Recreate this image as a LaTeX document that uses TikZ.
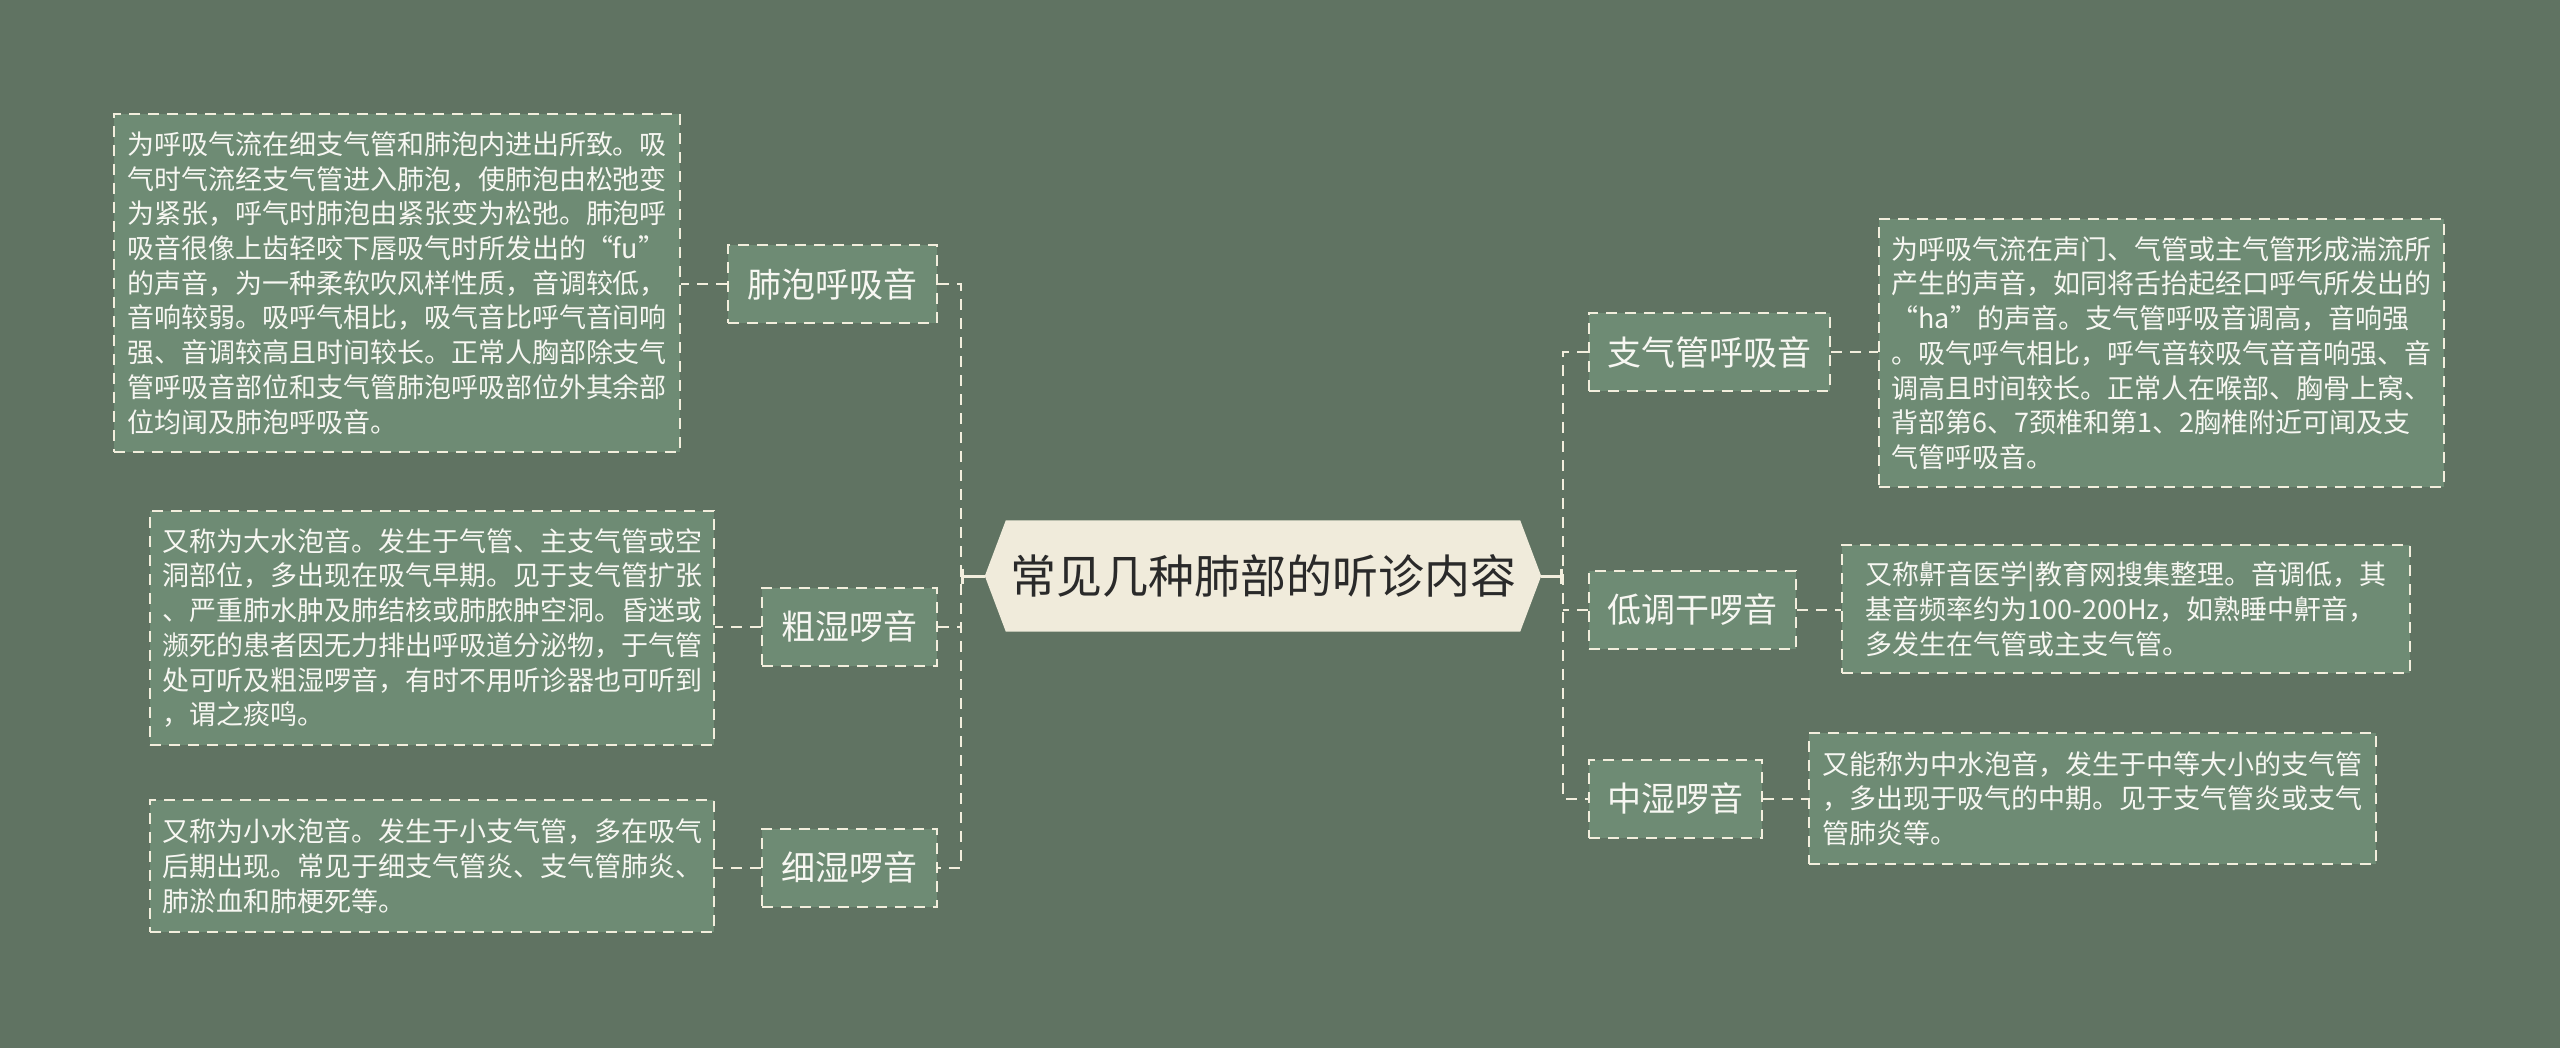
\documentclass[tikz,border=0pt]{standalone}
\usepackage{fontspec}
\setmainfont{Noto Sans CJK SC}
\usetikzlibrary{backgrounds,arrows.meta}
\definecolor{bg}{HTML}{607362}
\definecolor{boxfill}{HTML}{6E8B74}
\definecolor{lineC}{HTML}{F2EEDD}
\definecolor{centerfill}{HTML}{F0EBDB}
\definecolor{centertext}{HTML}{2A2A2A}
\definecolor{txt}{HTML}{F7F7F2}
\begin{document}
\begin{tikzpicture}[x=1pt,y=-1pt,
  dline/.style={draw=lineC, line width=2.9pt, dash pattern=on 11pt off 8pt},
  desc/.style={dline, fill=boxfill, text=txt, align=left, inner sep=0pt, font=\fontsize{27pt}{34.7pt}\selectfont},
  lab/.style={dline, fill=boxfill, text=txt, inner sep=0pt, minimum height=78pt, font=\fontsize{34pt}{40pt}\selectfont},
  conn/.style={dline},
  stub/.style={draw=lineC, line width=3pt, -{Bar[width=15pt,line width=3pt]}}]
\useasboundingbox (0,0) rectangle (2560,1048);
% left side
\node[desc, minimum width=566pt, minimum height=338pt] (d1) at (397,283) {为呼吸气流在细支气管和肺泡内进出所致。吸\\气时气流经支气管进入肺泡，使肺泡由松弛变\\为紧张，呼气时肺泡由紧张变为松弛。肺泡呼\\吸音很像上齿轻咬下唇吸气时所发出的“fu”\\的声音，为一种柔软吹风样性质，音调较低，\\音响较弱。吸呼气相比，吸气音比呼气音间响\\强、音调较高且时间较长。正常人胸部除支气\\管呼吸音部位和支气管肺泡呼吸部位外其余部\\位均闻及肺泡呼吸音。};
\node[lab, minimum width=209pt] (l1) at (832.5,284) {肺泡呼吸音};
\node[desc, minimum width=564pt, minimum height=234pt] (d2) at (432,628) {又称为大水泡音。发生于气管、主支气管或空\\洞部位，多出现在吸气早期。见于支气管扩张\\、严重肺水肿及肺结核或肺脓肿空洞。昏迷或\\濒死的患者因无力排出呼吸道分泌物，于气管\\处可听及粗湿啰音，有时不用听诊器也可听到\\，谓之痰鸣。};
\node[lab, minimum width=175pt] (l2) at (849.5,627) {粗湿啰音};
\node[desc, minimum width=564pt, minimum height=132pt] (d3) at (432,866) {又称为小水泡音。发生于小支气管，多在吸气\\后期出现。常见于细支气管炎、支气管肺炎、\\肺淤血和肺梗死等。};
\node[lab, minimum width=175pt] (l3) at (849.5,868) {细湿啰音};
% right side
\node[lab, minimum width=241pt] (r1) at (1709.5,352) {支气管呼吸音};
\node[desc, minimum width=565pt, minimum height=268pt] (e1) at (2161.5,353) {为呼吸气流在声门、气管或主气管形成湍流所\\产生的声音，如同将舌抬起经口呼气所发出的\\“ha”的声音。支气管呼吸音调高，音响强\\。吸气呼气相比，呼气音较吸气音音响强、音\\调高且时间较长。正常人在喉部、胸骨上窝、\\背部第6、7颈椎和第1、2胸椎附近可闻及支\\气管呼吸音。};
\node[lab, minimum width=207pt] (r2) at (1692.5,610) {低调干啰音};
\node[desc, minimum width=568pt, minimum height=128pt] (e2) at (2126,609) {又称鼾音医学|教育网搜集整理。音调低，其\\基音频率约为100-200Hz，如熟睡中鼾音，\\多发生在气管或主支气管。};
\node[lab, minimum width=173pt] (r3) at (1675.5,799) {中湿啰音};
\node[desc, minimum width=567pt, minimum height=131pt] (e3) at (2092.5,798.5) {又能称为中水泡音，发生于中等大小的支气管\\，多出现于吸气的中期。见于支气管炎或支气\\管肺炎等。};
% center
\node[inner sep=0pt, minimum width=556pt, minimum height=111pt, text=centertext, font=\fontsize{46pt}{50pt}\selectfont] (c) at (1263,576) {常见几种肺部的听诊内容};
\begin{pgfonlayer}{background}
\fill[bg] (0,0) rectangle (2560,1048);
\fill[centerfill] (c.west) -- ([xshift=21pt]c.north west) -- ([xshift=-21pt]c.north east) -- (c.east) -- ([xshift=-21pt]c.south east) -- ([xshift=21pt]c.south west) -- cycle;
\end{pgfonlayer}
% connectors
\coordinate (jl) at (961,576);
\coordinate (jr) at (1563,576);
\draw[stub] (c.west) -- (jl);
\draw[stub] (c.east) -- (jr);
\draw[conn] (l1.east) -| (jl) |- (l3.east);
\draw[conn] (l2.east) -- (l2.east -| jl);
\draw[conn] (r1.west) -| (jr) |- (r3.west);
\draw[conn] (r2.west) -- (r2.west -| jr);
\draw[conn] (l1.west) -- (l1.west -| d1.east);
\draw[conn] (l2.west) -- (l2.west -| d2.east);
\draw[conn] (l3.west) -- (l3.west -| d3.east);
\draw[conn] (r1.east) -- (r1.east -| e1.west);
\draw[conn] (r2.east) -- (r2.east -| e2.west);
\draw[conn] (r3.east) -- (r3.east -| e3.west);
\end{tikzpicture}
\end{document}
